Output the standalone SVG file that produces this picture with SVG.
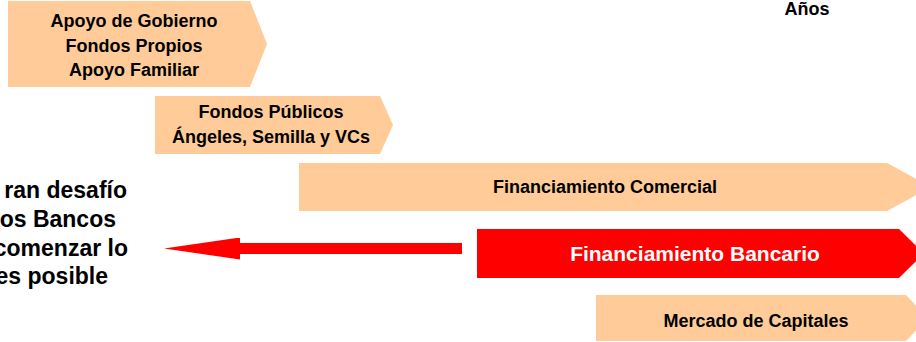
<svg xmlns="http://www.w3.org/2000/svg" width="916" height="342" viewBox="0 0 916 342">
<defs>
<style>
.box{fill:#FFCC99;}
.red{fill:#FF0000;}
text{font-family:"Liberation Sans",Arial,sans-serif;font-weight:bold;}
.t{font-size:18px;fill:#000;text-anchor:middle;}
.w{font-size:21px;fill:#fff;text-anchor:middle;}
.side{font-size:23px;fill:#000;text-anchor:end;}
</style>
<marker id="ah" markerUnits="userSpaceOnUse" markerWidth="76" markerHeight="22" refX="0" refY="11" orient="auto" viewBox="0 0 76 22">
<path d="M0,0 L76,11 L0,22 Z" fill="#FF0000"/>
</marker>
</defs>
<rect width="916" height="342" fill="#fff"/>
<g id="apoyo">
<polygon class="box" points="8,1 250,1 267,44 250,87 8,87"/>
<text class="t" x="134" y="27">Apoyo de Gobierno</text>
<text class="t" x="134" y="52">Fondos Propios</text>
<text class="t" x="134" y="76">Apoyo Familiar</text>
</g>
<g id="fondos">
<polygon class="box" points="155,96 380,96 393,125 380,154 155,154"/>
<text class="t" x="271" y="118">Fondos Públicos</text>
<text class="t" x="271" y="143">Ángeles, Semilla y VCs</text>
</g>
<g id="comercial">
<polygon class="box" points="299,163 887,163 931,187 887,211 299,211"/>
<text class="t" x="605" y="193">Financiamiento Comercial</text>
</g>
<g id="bancario">
<polygon class="red" points="477,229 899,229 924,253.5 899,278 477,278"/>
<text class="w" x="695" y="261">Financiamiento Bancario</text>
</g>
<g id="mercado">
<polygon class="box" points="596,295 906,295 928,318 906,341 596,341"/>
<text class="t" x="756" y="327">Mercado de Capitales</text>
</g>
<g id="anos">
<text x="807" y="15" style="font-size:18px;text-anchor:middle;">Años</text>
</g>
<g id="desafio">
<text class="side" x="127" y="198">ran desafío</text>
<text class="side" x="116" y="227">os Bancos</text>
<text class="side" x="128" y="256">comenzar lo</text>
<text class="side" x="108" y="284">es posible</text>
</g>
<g id="connectors">
<line x1="462" y1="248.5" x2="240" y2="248.5" stroke="#FF0000" stroke-width="11" marker-end="url(#ah)"/>
</g>
</svg>
